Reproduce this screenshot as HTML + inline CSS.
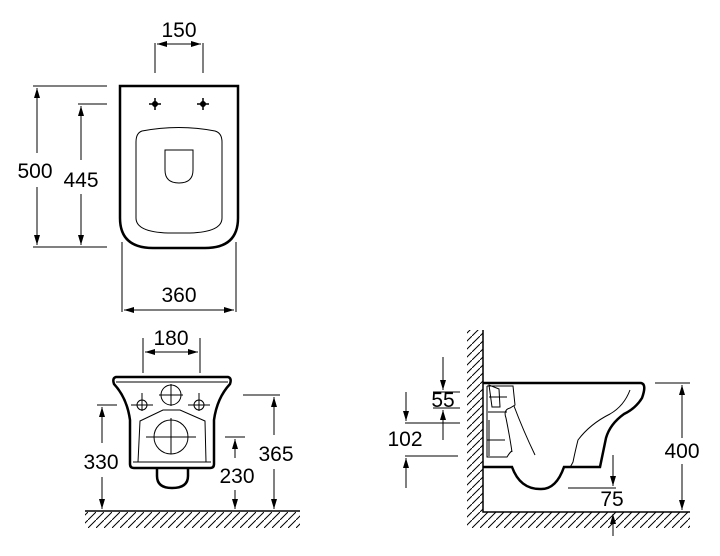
<!DOCTYPE html>
<html><head><meta charset="utf-8"><style>
html,body{margin:0;padding:0;background:#fff}
svg{display:block}
text{font-family:"Liberation Sans",Arial,sans-serif;font-size:21px;fill:#000;text-anchor:middle}
</style></head><body>
<svg width="720" height="556" viewBox="0 0 720 556" xmlns="http://www.w3.org/2000/svg">
<defs>
<marker id="a" markerWidth="10" markerHeight="8" refX="10" refY="4" orient="auto" markerUnits="userSpaceOnUse"><path d="M0,1 L10,4 L0,7 Z" fill="#000"/></marker>
<pattern id="h" width="8" height="8" patternUnits="userSpaceOnUse"><path d="M-2,10 L10,-2" stroke="#000" stroke-width="1"/></pattern>
</defs>
<g fill="none" stroke="#000" stroke-width="1">
<!-- TOP VIEW -->
<path d="M120,86 L238,86 L238,218 Q238,248 205,248 L153,248 Q120,248 120,218 Z" stroke-width="2.5"/>
<path d="M142,131 Q179,124 215,131 Q222,133 222,142 L222,218 Q222,232 190,233 L168,233 Q136,232 136,218 L136,142 Q136,133 142,131 Z"/>
<path d="M165,150 L193,150 L193,170 Q193,183 179,183 Q165,183 165,170 Z"/>
<g stroke-width="1.5"><path d="M149,104 h12 M155,98 v12 M197,104 h12 M203,98 v12"/></g>
<circle cx="155" cy="104" r="2.5" fill="#000"/><circle cx="203" cy="104" r="2.5" fill="#000"/>
<path d="M155,43 V73 M203,43 V73"/>
<path d="M179,44 H157" marker-end="url(#a)"/><path d="M179,44 H201" marker-end="url(#a)"/>
<path d="M33,86 H107 M78,104 H107 M33,247 H107"/>
<path d="M37,153 V88" marker-end="url(#a)"/><path d="M37,187 V245" marker-end="url(#a)"/>
<path d="M81,160 V106" marker-end="url(#a)"/><path d="M81,194 V245" marker-end="url(#a)"/>
<path d="M122,242 V312 M236,242 V312"/>
<path d="M179,310 H124" marker-end="url(#a)"/><path d="M179,310 H234" marker-end="url(#a)"/>

<!-- FRONT VIEW -->
<path d="M116,377 L228,377 Q232,378 230,384 Q217,398 214,420 L214,464 Q214,468 210,468 L134,468 Q130,468 130,464 L130,420 Q127,398 114,384 Q112,378 116,377 Z" stroke-width="2.5"/>
<path d="M116,382 H228"/>
<path d="M140,421 L163,410 L180,410 L205,421 L206,462 L138,462 Z"/>
<path d="M133,462 H211"/>
<path d="M157,468 V476 Q157,488 172,488 Q188,488 188,476 V468" stroke-width="2.5"/>
<circle cx="171" cy="395" r="10"/><circle cx="142" cy="405" r="5"/><circle cx="199" cy="405" r="5"/><circle cx="171" cy="437" r="17"/>
<path d="M159,395 h24 M171,384 v22 M131,405 h22 M142,393 v18 M188,405 h22 M199,393 v18 M146,437 h50 M171,418 v36"/>
<path d="M143,338 V373 M200,338 V373"/>
<path d="M171,352 H145" marker-end="url(#a)"/><path d="M171,352 H198" marker-end="url(#a)"/>
<path d="M97,405 H117 M225,437 H245 M243,395 H280"/>
<path d="M102,443 V407" marker-end="url(#a)"/><path d="M102,477 V509" marker-end="url(#a)"/>
<path d="M235,458 V439" marker-end="url(#a)"/><path d="M235,490 V509" marker-end="url(#a)"/>
<path d="M274,435 V397" marker-end="url(#a)"/><path d="M274,469 V509" marker-end="url(#a)"/>
<rect x="85" y="512" width="215" height="16" fill="url(#h)" stroke="none"/>
<path d="M85,511 H300" stroke-width="1.5"/>

<!-- SIDE VIEW -->
<rect x="467" y="330" width="16" height="198" fill="url(#h)" stroke="none"/>
<rect x="483" y="512" width="207" height="16" fill="url(#h)" stroke="none"/>
<path d="M483,330 V512 H690" stroke-width="1.5"/>
<path d="M483,383 L641,383 Q647,384 642,398 Q636,408 624,414 Q610,424 606,438 L600,467 L564,467 Q556,490 540,489 Q520,489 512,467 L483,467" stroke-width="2.5"/>
<path d="M487,386 V457 H507 Q510,452 512,451"/>
<path d="M487,386 H513 L515,405 L510,408 Q503,410 506,418 Q510,438 512,452"/>
<path d="M489,385 L492,407 H500 L499,389 Z"/>
<path d="M488,412 H507 M489,420 V456"/>
<path d="M489,397 h18 M487,440 h18"/>
<path d="M630,390 Q624,406 610,414 Q590,424 578,440 Q575,452 573,462 Q571,466 570,467"/>
<path d="M514,406 Q523,430 535,455"/>
<path d="M433,392 H460 M433,408 H460 M405,423 H460 M405,456 H458"/>
<path d="M443,357 V390" marker-end="url(#a)"/><path d="M443,440 V410" marker-end="url(#a)"/>
<path d="M406,392 V421" marker-end="url(#a)"/><path d="M406,488 V458" marker-end="url(#a)"/>
<path d="M655,383 H690"/>
<path d="M682,438 V385" marker-end="url(#a)"/><path d="M682,464 V510" marker-end="url(#a)"/>
<path d="M568,488 H616"/>
<path d="M613,455 V486" marker-end="url(#a)"/><path d="M613,536 V514" marker-end="url(#a)"/>
</g>
<text x="179" y="37">150</text>
<text x="35" y="178">500</text>
<text x="81" y="187">445</text>
<text x="179" y="302">360</text>
<text x="171" y="345">180</text>
<text x="101" y="469">330</text>
<text x="237" y="483">230</text>
<text x="276" y="461">365</text>
<text x="443" y="407">55</text>
<text x="405" y="446">102</text>
<text x="682" y="458">400</text>
<text x="612" y="506">75</text>
</svg>
</body></html>
